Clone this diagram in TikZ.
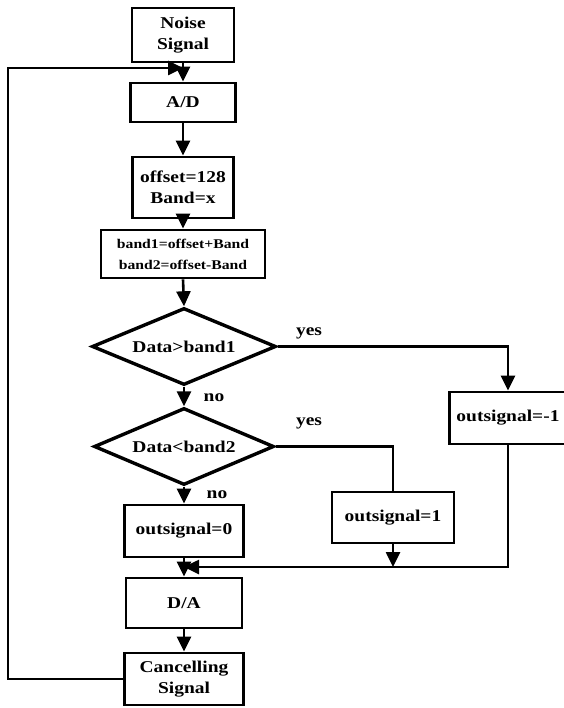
\documentclass[tikz,border=0pt]{standalone}
\usepackage{fontspec}
\setmainfont{Liberation Serif}[FakeStretch=1.18]
\usetikzlibrary{arrows.meta,shapes.geometric}
\begin{document}
\begin{tikzpicture}[x=1pt,y=-1pt,
  font=\fontsize{16.5}{21}\selectfont\bfseries,
  box/.style={draw,line width=2.8pt,rectangle,inner sep=0pt,align=center},
  dia/.style={draw,line width=3.4pt,diamond,inner sep=0pt,aspect=2.4},
  conn/.style={line width=2.6pt},
  arr/.style={line width=2.6pt,-{Triangle[width=14pt,length=15pt]}},
  lbl/.style={inner sep=0pt}]
\useasboundingbox (0,0) rectangle (563,708);
\node[box,minimum width=102pt,minimum height=54pt] (noise) at (183,35) {Noise\\Signal};
\node[box,minimum width=105pt,minimum height=39pt] (ad) at (183,102.5) {A/D};
\node[box,minimum width=101pt,minimum height=61pt] (off) at (183,187.5) {offset=128\\Band=x};
\node[box,minimum width=164pt,minimum height=48pt,font=\fontsize{13.3}{21}\selectfont\bfseries] (band) at (183,254) {band1=offset+Band\\band2=offset-Band};
\node[dia,minimum width=184pt,minimum height=77pt] (d1) at (184,346.5) {Data>band1};
\node[dia,minimum width=180pt,minimum height=77pt] (d2) at (184,446.5) {Data<band2};
\node[box,minimum width=119pt,minimum height=52pt] (o0) at (184,531) {outsignal=0};
\node[box,minimum width=116pt,minimum height=50pt] (da) at (184,603) {D/A};
\node[box,minimum width=119pt,minimum height=52pt] (canc) at (184,679) {Cancelling\\Signal};
\node[box,minimum width=117pt,minimum height=52pt] (om1) at (508,418) {outsignal=-1};
\node[box,minimum width=122pt,minimum height=51pt] (o1) at (393,517.5) {outsignal=1};
\node[lbl] (yes1) at (309,333) {yes};
\node[lbl] (yes2) at (309,423) {yes};
\node[lbl] (no1) at (214,398) {no};
\node[lbl] (no2) at (217,495) {no};
\coordinate (fbtop) at (183,68);
\coordinate (merge) at (184,567);
\coordinate (m1) at (393,567);
\draw[arr] (noise.south) -- (ad.north);
\draw[arr] (ad.south) -- (off.north);
\draw[arr] (off.south) -- (band.north);
\draw[arr] (band.south) -- (d1.north);
\draw[arr] (d1.south) -- (d2.north);
\draw[arr] (d2.south) -- (o0.north);
\draw[arr] (o0.south) -- (da.north);
\draw[arr] (da.south) -- (canc.north);
\draw[arr] (d1.east) -| (om1.north);
\draw[conn] (d2.east) -| (o1.north);
\draw[arr] (om1.south) |- (merge);
\draw[arr] (o1.south) -- (m1);
\draw[arr] (canc.west) -| (8,68) -- (fbtop);
\end{tikzpicture}
\end{document}
